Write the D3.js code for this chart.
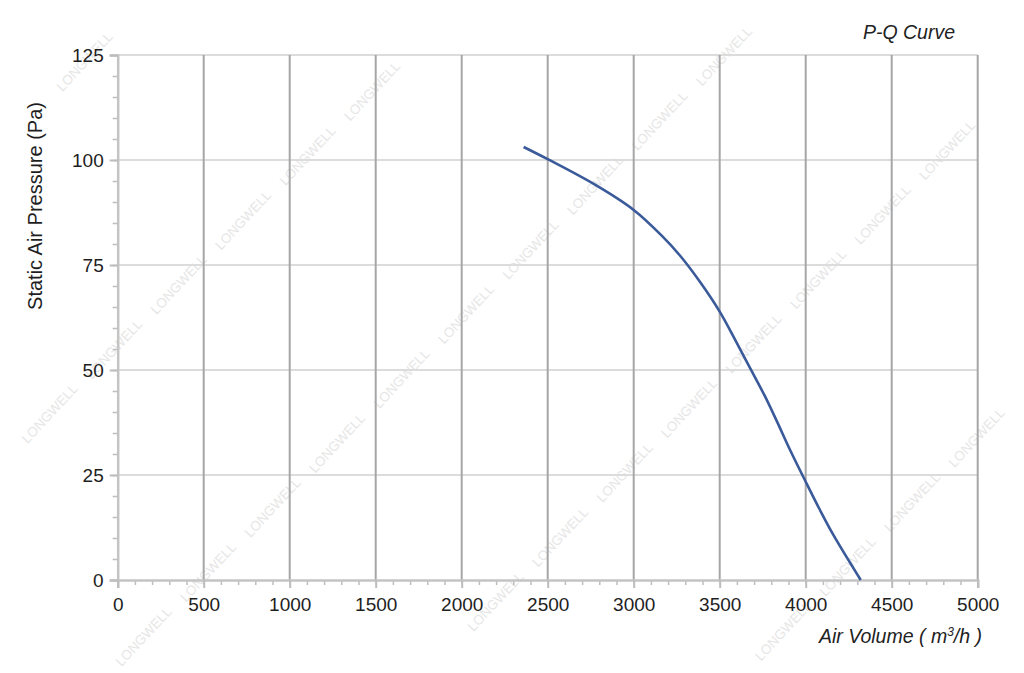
<!DOCTYPE html>
<html><head><meta charset="utf-8">
<script src="https://cdn.jsdelivr.net/npm/d3@7"></script>
<style>body{margin:0;background:#fff}svg{display:block}text{font-family:"Liberation Sans",Arial,sans-serif}</style>
</head><body>
<svg id="c" width="1024" height="673"></svg>
<script>
const flow = [2360, 2500, 2780, 3000, 3160, 3270, 3385, 3500, 3600, 3680, 3760, 3830, 3910, 4000, 4080, 4160, 4320];
const pressure = [103.1, 100.2, 94.0, 88.1, 82.1, 77.2, 71.0, 63.9, 56.4, 50.2, 44.0, 38.0, 30.9, 23.4, 16.9, 10.8, 0];
const xTicks = [0, 500, 1000, 1500, 2000, 2500, 3000, 3500, 4000, 4500, 5000];
const yTicks = [0, 25, 50, 75, 100, 125];
const title = "P-Q Curve";
const yTitle = "Static Air Pressure  (Pa)";
const watermark = "LONGWELL";

const svg = d3.select("#c");
const x = d3.scaleLinear().domain([0, 5000]).range([117.7, 977.7]);
const y = d3.scaleLinear().domain([0, 125]).range([580, 55]);

// watermarks
const wm = svg.append("g");
for (let k = -1; k < 7; k++) {
  for (let m = -10; m < 10; m++) {
    const s = 146 + 317 * k, d = 23 + 129 * m;
    const cx = (s + d) / 2, cy = (s - d) / 2;
    if (cx < 32 || cx > 992 || cy < 32 || cy > 641) continue;
    wm.append("text").attr("transform", `translate(${cx},${cy}) rotate(-47)`)
      .attr("text-anchor", "middle").attr("dy", "0.35em")
      .attr("font-size", 13.5).attr("fill", "#e6e6e6").text(watermark);
  }
}

// horizontal grid
svg.append("g").selectAll("line").data(yTicks.filter(d => d > 0)).join("line")
  .attr("x1", x(0)).attr("x2", x(5000)).attr("y1", d => y(d)).attr("y2", d => y(d))
  .attr("stroke", "#dcdcdc").attr("stroke-width", 2);
// vertical grid
svg.append("g").selectAll("line").data(xTicks.filter(d => d > 0)).join("line")
  .attr("x1", d => x(d)).attr("x2", d => x(d)).attr("y1", y(0)).attr("y2", y(125))
  .attr("stroke", "#a6a6a6").attr("stroke-width", 2);

// y axis minor ticks
const yMinor = d3.range(0, 126, 5);
const yAx = svg.append("g").attr("transform", `translate(${x(0)},0)`);
yAx.call(d3.axisLeft(y).tickValues(yMinor).tickSize(5).tickFormat(""));
yAx.call(g => g.select(".domain").remove());
yAx.selectAll("line").attr("stroke", "#bdbdbd").attr("stroke-width", 1.5);
const yMaj = svg.append("g").attr("transform", `translate(${x(0)},0)`)
  .call(d3.axisLeft(y).tickValues(yTicks).tickSize(8).tickPadding(6));
yMaj.select(".domain").attr("stroke", "#c4c4c4").attr("stroke-width", 2.5);
yMaj.selectAll("line").attr("stroke", "#bdbdbd").attr("stroke-width", 2);
yMaj.selectAll("text").attr("font-size", 19).attr("fill", "#1e1e1e").attr("x", -14)
  .attr("font-family", "Liberation Sans, Arial, sans-serif");

// x axis
const xMinor = d3.range(0, 5001, 100);
const xAx = svg.append("g").attr("transform", `translate(0,${y(0)})`);
xAx.call(d3.axisBottom(x).tickValues(xMinor).tickSize(5).tickFormat(""));
xAx.call(g => g.select(".domain").remove());
xAx.selectAll("line").attr("stroke", "#bdbdbd").attr("stroke-width", 1.5);
const xMaj = svg.append("g").attr("transform", `translate(0,${y(0)})`)
  .call(d3.axisBottom(x).tickValues(xTicks).tickSize(8).tickPadding(10).tickFormat(d3.format("d")));
xMaj.select(".domain").attr("stroke", "#c4c4c4").attr("stroke-width", 2.5);
xMaj.selectAll("line").attr("stroke", "#bdbdbd").attr("stroke-width", 2);
xMaj.selectAll("text").attr("font-size", 19).attr("fill", "#1e1e1e")
  .attr("font-family", "Liberation Sans, Arial, sans-serif");

// curve
const pts = flow.map((f, i) => [f, pressure[i]]);
svg.append("path").datum(pts)
  .attr("d", d3.line().x(d => x(d[0])).y(d => y(d[1])).curve(d3.curveCatmullRom.alpha(0.5)))
  .attr("fill", "none").attr("stroke", "#3a5a9a").attr("stroke-width", 2.6);

// titles
svg.append("text").attr("x", 955).attr("y", 39).attr("text-anchor", "end")
  .attr("font-size", 19.5).attr("font-style", "italic").attr("fill", "#222").text(title);
const xt = svg.append("text").attr("x", 982).attr("y", 643).attr("text-anchor", "end")
  .attr("font-size", 19.5).attr("font-style", "italic").attr("fill", "#222");
xt.append("tspan").text("Air Volume ( m");
xt.append("tspan").attr("font-size", 12).attr("dy", -7).text("3");
xt.append("tspan").attr("dy", 7).text("/h )");
svg.append("text").attr("transform", "translate(42,206) rotate(-90)").attr("text-anchor", "middle")
  .attr("font-size", 20).attr("fill", "#1e1e1e").text(yTitle);
</script>
</body></html>
